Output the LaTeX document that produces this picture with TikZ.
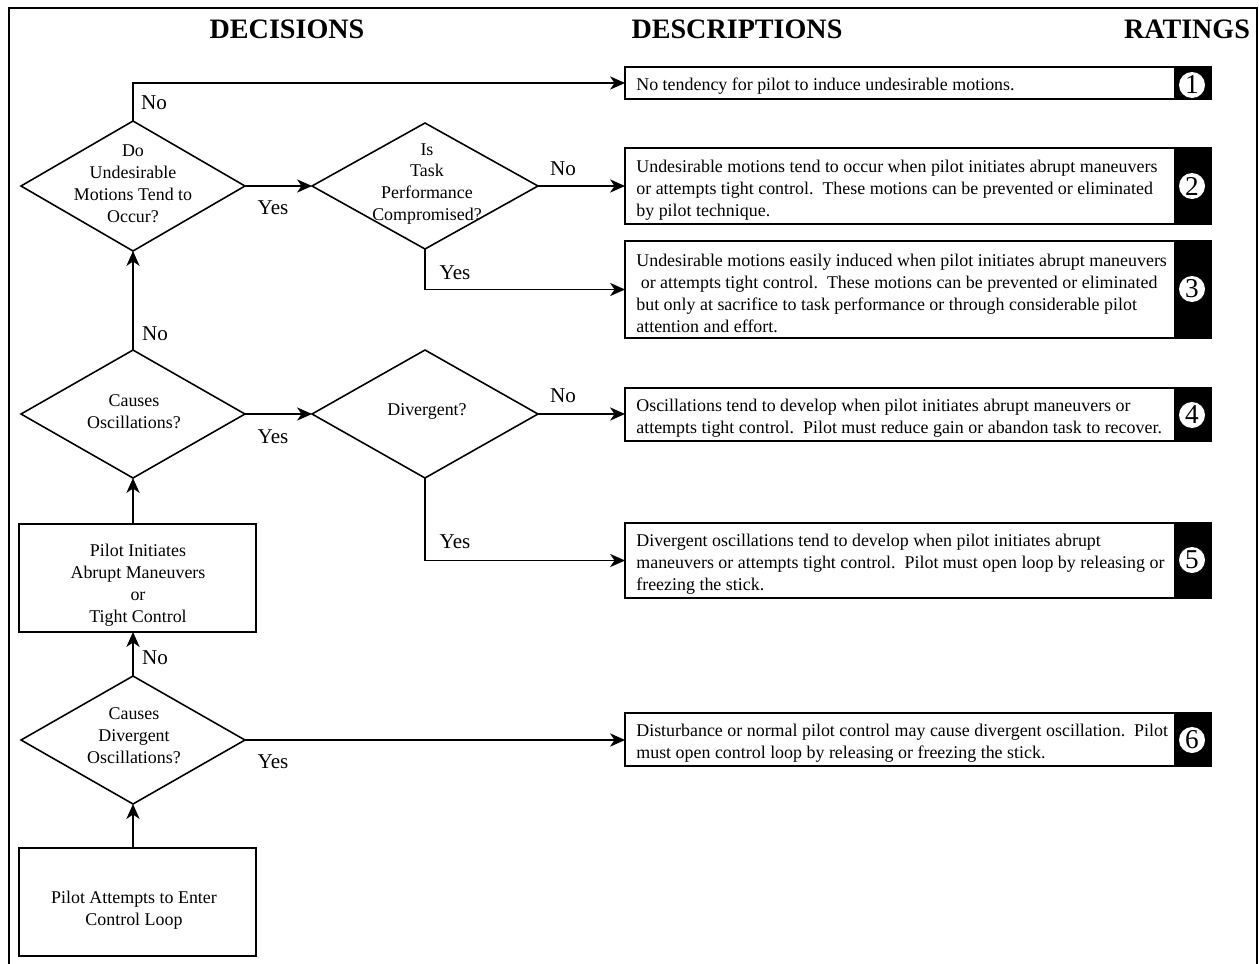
\documentclass[tikz,border=0pt]{standalone}
\usepackage{fontspec}
\setmainfont{Liberation Serif}
\usetikzlibrary{shapes.geometric,arrows.meta}
\begin{document}
\begin{tikzpicture}[x=0.02cm,y=-0.02cm,
 ln/.style={line width=0.9pt},
 arr/.style={line width=0.9pt,-{Stealth[length=8.5pt,width=7.5pt,inset=2.5pt]}},
 dia/.style={draw,diamond,line width=0.9pt,inner sep=0pt,outer sep=0pt,minimum width=4.48cm,minimum height=2.56cm},
 dtext/.style={align=center,font=\fontsize{10.2}{12.5}\selectfont,inner sep=0pt},
 pbox/.style={draw,line width=1.2pt,minimum width=4.74cm,minimum height=2.16cm,inner sep=0pt,outer sep=0pt},
 dbox/.style={draw,line width=1pt,minimum width=11cm,inner sep=0pt,outer sep=0pt},
 rate/.style={fill=black,draw=black,line width=1pt,minimum width=0.72cm,inner sep=0pt},
 rc/.style={circle,fill=white,inner sep=0pt,minimum size=0.52cm,font=\fontsize{15.5}{15.5}\selectfont},
 desc/.style={anchor=west,align=left,inner sep=0pt,font=\fontsize{10.2}{12.5}\selectfont},
 head/.style={inner sep=0pt,font=\fontsize{16}{19}\selectfont\bfseries},
 yn/.style={inner sep=0pt,font=\fontsize{12}{14}\selectfont}
]
\useasboundingbox (0,0) rectangle (1259,964);
\draw[line width=1.2pt] (9,964) -- (9,8) -- (1257,8) -- (1257,964);

% headings
\node[head] (h1) at (287,29) {DECISIONS};
\node[head] (h2) at (737,29) {DESCRIPTIONS};
\node[head] (h3) at (1187,29) {RATINGS};

% diamonds
\node[dia,minimum height=2.6cm] (d1) at (133,186) {};
\node[dtext] (d1t) at (133,184) {Do\\Undesirable\\Motions Tend to\\Occur?};
\node[dia,minimum width=4.52cm,minimum height=2.52cm] (d2) at (425,186) {};
\node[dtext] (d2t) at (427,184) {Is\\Task\\Performance\\Compromised?};
\node[dia] (d3) at (133,414) {};
\node[dtext] (d3t) at (134,412) {Causes\\Oscillations?};
\node[dia,minimum width=4.52cm] (d4) at (425,414) {};
\node[dtext] (d4t) at (427,411) {Divergent?};
\node[dia] (d5) at (133,740) {};
\node[dtext] (d5t) at (134,736) {Causes\\Divergent\\Oscillations?};

% process boxes
\node[pbox] (p1) at (137.5,578) {};
\node[dtext] (p1t) at (138,585) {Pilot Initiates\\Abrupt Maneuvers\\or\\Tight Control};
\node[pbox] (p0) at (137.5,902) {};
\node[dtext] (p0t) at (134,910) {Pilot Attempts to Enter\\Control Loop};

% rating blocks
\node[rate,minimum height=0.64cm] (k1) at (1193,83) {};
\node[rate,minimum height=1.52cm] (k2) at (1193,186) {};
\node[rate,minimum height=1.94cm] (k3) at (1193,289.5) {};
\node[rate,minimum height=1.06cm] (k4) at (1193,414.5) {};
\node[rate,minimum height=1.5cm] (k5) at (1193,560.5) {};
\node[rate,minimum height=1.06cm] (k6) at (1193,739.5) {};

% description boxes
\node[dbox,minimum height=0.64cm] (b1) at (900,83) {};
\node[dbox,minimum height=1.52cm] (b2) at (900,186) {};
\node[dbox,minimum height=1.94cm] (b3) at (900,289.5) {};
\node[dbox,minimum height=1.06cm] (b4) at (900,414.5) {};
\node[dbox,minimum height=1.5cm] (b5) at (900,560.5) {};
\node[dbox,minimum height=1.06cm] (b6) at (900,739.5) {};

\node[desc] (t1) at (636,86) {No tendency for pilot to induce undesirable motions.};
\node[desc] (t2) at (636,190) {Undesirable motions tend to occur when pilot initiates abrupt maneuvers\\or attempts tight control.\ \ These motions can be prevented or eliminated\\by pilot technique.};
\node[desc] (t3) at (636,293) {Undesirable motions easily induced when pilot initiates abrupt maneuvers\\\hspace{0.25em}or attempts tight control.\ \ These motions can be prevented or eliminated\\but only at sacrifice to task performance or through considerable pilot\\attention and effort.};
\node[desc] (t4) at (636,418) {Oscillations tend to develop when pilot initiates abrupt maneuvers or\\attempts tight control.\ \ Pilot must reduce gain or abandon task to recover.};
\node[desc] (t5) at (636,564) {Divergent oscillations tend to develop when pilot initiates abrupt\\maneuvers or attempts tight control.\ \ Pilot must open loop by releasing or\\freezing the stick.};
\node[desc] (t6) at (636,743) {Disturbance or normal pilot control may cause divergent oscillation.\ \ Pilot\\must open control loop by releasing or freezing the stick.};

% rating circles
\node[rc] (r1) at (1192,85) {1};
\node[rc] (r2) at (1192,186) {2};
\node[rc] (r3) at (1192,289) {3};
\node[rc] (r4) at (1192,415) {4};
\node[rc] (r5) at (1192,560) {5};
\node[rc] (r6) at (1192,740) {6};

% connectors
\draw[arr] (d1.north) -- (d1.north |- b1.west) -- (b1.west);
\draw[arr] (d1.east) -- (d2.west);
\draw[arr] (d2.east) -- (b2.west);
\draw[arr] (d2.south) -- (d2.south |- b3.west) -- (b3.west);
\draw[arr] (d3.north) -- (d1.south);
\draw[arr] (d3.east) -- (d4.west);
\draw[arr] (d4.east) -- (d4.east -| b4.west);
\draw[arr] (d4.south) -- (d4.south |- b5.west) -- (b5.west);
\draw[arr] (d3.south |- p1.north) -- (d3.south);
\draw[arr] (d5.north) -- (d5.north |- p1.south);
\draw[arr] (d5.south |- p0.north) -- (d5.south);
\draw[arr] (d5.east) -- (d5.east -| b6.west);

% labels
\node[yn] (l1) at (154,103) {No};
\node[yn] (l2) at (273,208) {Yes};
\node[yn] (l3) at (563,169) {No};
\node[yn] (l4) at (455,273) {Yes};
\node[yn] (l5) at (155,334) {No};
\node[yn] (l6) at (273,437) {Yes};
\node[yn] (l7) at (563,396) {No};
\node[yn] (l8) at (455,542) {Yes};
\node[yn] (l9) at (155,658) {No};
\node[yn] (l10) at (273,762) {Yes};
\end{tikzpicture}
\end{document}
